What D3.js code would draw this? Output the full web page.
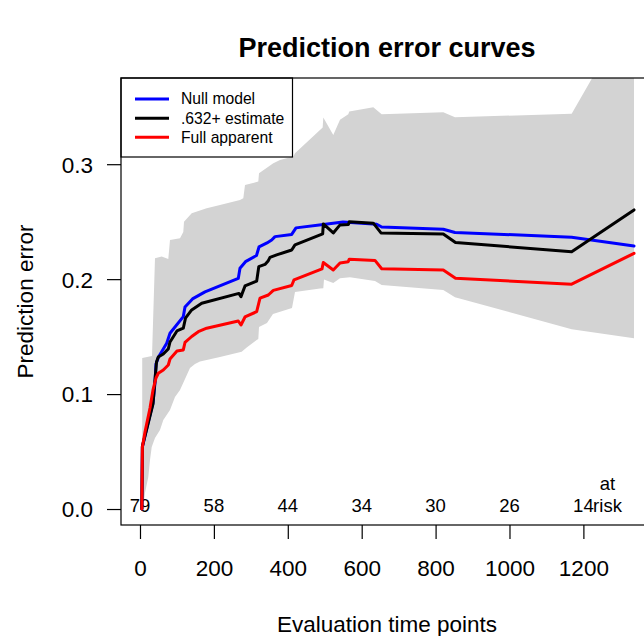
<!DOCTYPE html>
<html>
<head>
<meta charset="utf-8">
<script src="https://cdn.jsdelivr.net/npm/d3@7"></script>
<style>
  html, body { margin: 0; padding: 0; background: #fff; }
  svg { display: block; }
</style>
</head>
<body>
<script>
// Prediction error (Brier score) over follow-up time for three estimates,
// with a pointwise grey band around the .632+ curve.

const nullTimes = [5, 6.5, 21.7, 35.2, 40.6, 43.3, 50.1, 72.3, 81.2, 117.2, 121.8, 142.1, 175.9, 266.0, 270.6, 285.5, 315.3, 322.1, 343.7, 356.4, 365.4, 410.6, 422.2, 496.1, 549.4, 640.6, 654.1, 820.8, 852.5, 1168.3, 1337];
const nullErr = [0, 0.054, 0.0748, 0.0923, 0.1097, 0.1262, 0.1323, 0.1442, 0.1529, 0.1674, 0.1758, 0.1828, 0.1889, 0.2006, 0.2095, 0.2152, 0.2206, 0.2280, 0.2315, 0.2341, 0.2370, 0.2389, 0.2446, 0.2476, 0.2498, 0.2478, 0.2454, 0.2434, 0.2406, 0.2365, 0.2289];

const bootTimes = [5, 6.5, 21.7, 35.2, 40.6, 44.7, 49.5, 63.1, 76.6, 81.2, 100.0, 117.2, 123.1, 139.9, 167.0, 267.9, 273.3, 284.2, 315.8, 321.5, 338.3, 347.3, 351.8, 369.9, 410.6, 419.5, 494.4, 496.1, 523.1, 541.3, 564.3, 566.4, 631.4, 652.2, 820.8, 853.9, 1168.3, 1337];
const bootErr = [0, 0.0548, 0.0740, 0.0914, 0.1123, 0.1279, 0.1323, 0.1349, 0.1393, 0.1453, 0.1549, 0.1573, 0.1660, 0.1732, 0.1790, 0.1876, 0.1848, 0.1941, 0.1983, 0.2109, 0.2128, 0.2161, 0.2189, 0.2211, 0.2254, 0.2298, 0.2393, 0.2480, 0.2402, 0.2472, 0.2476, 0.2500, 0.2487, 0.2402, 0.2393, 0.2318, 0.2239, 0.2602];

const appTimes = [5, 6.5, 13.5, 27.1, 35.2, 43.3, 49.5, 63.1, 76.6, 81.2, 100.1, 117.2, 121.8, 139.9, 157.8, 180.5, 266.0, 273.3, 284.2, 315.8, 324.8, 347.3, 360.8, 410.6, 416.8, 492.6, 496.1, 523.1, 541.3, 563.6, 566.4, 636.0, 654.1, 820.8, 853.9, 1168.3, 1337];
const appErr = [0, 0.054, 0.0670, 0.0879, 0.1036, 0.1140, 0.1181, 0.1210, 0.1253, 0.1305, 0.1375, 0.1384, 0.1449, 0.1501, 0.1543, 0.1573, 0.1636, 0.1601, 0.1671, 0.1717, 0.1834, 0.1862, 0.1902, 0.1945, 0.1993, 0.2089, 0.2145, 0.2080, 0.2141, 0.2152, 0.2174, 0.2163, 0.2091, 0.2080, 0.2008, 0.1956, 0.2225];

const bandUpperTimes = [6, 32.5, 40.6, 58.7, 76.6, 81.2, 108.3, 117.2, 119.1, 139.9, 180.5, 216.5, 270.6, 279.6, 284.2, 320.2, 322.1, 360.8, 378.9, 414.9, 419.5, 494.4, 496.1, 523.1, 541.3, 563.7, 566.4, 631.4, 654.1, 820.8, 852.5, 1168.3, 1337];
const bandUpper = [0.1314, 0.1332, 0.2182, 0.2196, 0.2176, 0.2341, 0.2356, 0.2411, 0.2500, 0.2574, 0.2617, 0.2646, 0.2689, 0.2704, 0.2820, 0.2849, 0.2922, 0.3009, 0.3037, 0.3066, 0.3096, 0.3319, 0.3406, 0.3255, 0.3386, 0.3435, 0.3458, 0.3496, 0.3435, 0.3453, 0.3409, 0.3438, 0.4386];

const bandLowerTimes = [6, 9, 13.5, 22.5, 27.1, 31.7, 40.6, 54.1, 63.1, 81.2, 94.7, 108.3, 121.8, 135.3, 148.8, 162.4, 216.5, 275.2, 288.8, 315.8, 320.2, 322.1, 343.7, 359.9, 411.4, 419.5, 487.1, 496.1, 498.0, 523.1, 541.3, 568.3, 636.0, 654.1, 820.8, 852.5, 1168.3, 1337];
const bandLower = [0, 0.0009, 0.0139, 0.0279, 0.0426, 0.0540, 0.0618, 0.0688, 0.0775, 0.0862, 0.0975, 0.1036, 0.1131, 0.1227, 0.1262, 0.1284, 0.1323, 0.1369, 0.1406, 0.1471, 0.1480, 0.1584, 0.1619, 0.1697, 0.1749, 0.1889, 0.1919, 0.1921, 0.1997, 0.1967, 0.2008, 0.2017, 0.1984, 0.1950, 0.1906, 0.1842, 0.1564, 0.1486];

const xTicks = [0, 200, 400, 600, 800, 1000, 1200];
const yTicks = [0.0, 0.1, 0.2, 0.3];
const atRiskTimes = [0, 200, 400, 600, 800, 1000, 1200];
const atRiskCounts = [79, 58, 44, 34, 30, 26, 14];

const legendLabels = ["Null model", ".632+ estimate", "Full apparent"];
const legendColors = ["#0000ff", "#000000", "#ff0000"];

const W = 644, H = 636;
const box = { left: 121, top: 78, right: 653, bottom: 525 };
const FONT = "'Liberation Sans', Arial, Helvetica, sans-serif";

const svg = d3.select("body").append("svg")
  .attr("width", W).attr("height", H)
  .attr("viewBox", `0 0 ${W} ${H}`);

const x = d3.scaleLinear().domain([-51.4, 1388.4]).range([box.left, box.right]);
const y = d3.scaleLinear().domain([-0.0139, 0.375]).range([box.bottom, box.top]);

svg.append("defs").append("clipPath").attr("id", "plotClip")
  .append("rect")
  .attr("x", box.left).attr("y", box.top)
  .attr("width", box.right - box.left).attr("height", box.bottom - box.top);

const plot = svg.append("g").attr("clip-path", "url(#plotClip)");

// grey band: upper edge forward, lower edge back
const upperPts = bandUpperTimes.map((t, i) => [t, bandUpper[i]]);
const lowerPts = bandLowerTimes.map((t, i) => [t, bandLower[i]]).reverse();
plot.append("path")
  .attr("d", d3.line().x(d => x(d[0])).y(d => y(d[1]))(upperPts.concat(lowerPts)) + "Z")
  .attr("fill", "#d3d3d3")
  .attr("stroke", "none");

// number at risk
plot.selectAll("text.risk").data(atRiskTimes).enter().append("text")
  .attr("class", "risk")
  .attr("x", d => x(d))
  .attr("y", 512)
  .attr("text-anchor", "middle")
  .attr("font-family", FONT).attr("font-size", 18.5)
  .text((d, i) => atRiskCounts[i]);
plot.append("text").attr("x", 607.5).attr("y", 490).attr("text-anchor", "middle")
  .attr("font-family", FONT).attr("font-size", 18.5).text("at");
plot.append("text").attr("x", 607.5).attr("y", 512).attr("text-anchor", "middle")
  .attr("font-family", FONT).attr("font-size", 18.5).text("risk");

// curves
const line = d3.line().x(d => x(d[0])).y(d => y(d[1]));
const series = [
  { times: nullTimes, vals: nullErr, color: legendColors[0] },
  { times: bootTimes, vals: bootErr, color: legendColors[1] },
  { times: appTimes, vals: appErr, color: legendColors[2] }
];
series.forEach(s => {
  plot.append("path")
    .attr("d", line(s.times.map((t, i) => [t, s.vals[i]])))
    .attr("fill", "none")
    .attr("stroke", s.color)
    .attr("stroke-width", 3)
    .attr("stroke-linejoin", "round")
    .attr("stroke-linecap", "round");
});

// legend
const lg = svg.append("g");
lg.append("rect")
  .attr("x", box.left).attr("y", box.top)
  .attr("width", 292.5 - box.left).attr("height", 157 - box.top)
  .attr("fill", "#fff").attr("stroke", "#000").attr("stroke-width", 1.2);
const rowsY = [99, 118.3, 137.3];
legendLabels.forEach((lab, i) => {
  lg.append("line")
    .attr("x1", 135).attr("x2", 169)
    .attr("y1", rowsY[i]).attr("y2", rowsY[i])
    .attr("stroke", legendColors[i]).attr("stroke-width", 3);
  lg.append("text")
    .attr("x", 181).attr("y", rowsY[i])
    .attr("dy", "0.35em")
    .attr("font-family", FONT).attr("font-size", 15.7)
    .text(lab);
});

// plot frame
svg.append("rect")
  .attr("x", box.left).attr("y", box.top)
  .attr("width", box.right - box.left).attr("height", box.bottom - box.top)
  .attr("fill", "none").attr("stroke", "#000").attr("stroke-width", 1.2);

// x axis
const xAxis = d3.axisBottom(x).tickValues(xTicks).tickSize(14).tickPadding(22)
  .tickFormat(d3.format("d"));
const gx = svg.append("g").attr("transform", `translate(0,${box.bottom})`).call(xAxis);
gx.select(".domain").remove();
gx.selectAll("line").attr("stroke", "#000").attr("stroke-width", 1.2);
gx.selectAll("text").attr("font-family", FONT).attr("font-size", 22.5).attr("fill", "#000")
  .attr("dy", null).attr("y", 51);

// y axis
const yAxis = d3.axisLeft(y).tickValues(yTicks).tickSize(14).tickPadding(14)
  .tickFormat(d3.format(".1f"));
const gy = svg.append("g").attr("transform", `translate(${box.left},0)`).call(yAxis);
gy.select(".domain").remove();
gy.selectAll("line").attr("stroke", "#000").attr("stroke-width", 1.2);
gy.selectAll("text").attr("font-family", FONT).attr("font-size", 22.5).attr("fill", "#000")
  .attr("x", -28).attr("dy", "0.35em");

// titles
svg.append("text")
  .attr("x", (box.left + box.right) / 2).attr("y", 57)
  .attr("text-anchor", "middle")
  .attr("font-family", FONT).attr("font-size", 27).attr("font-weight", "bold")
  .text("Prediction error curves");
svg.append("text")
  .attr("x", (box.left + box.right) / 2).attr("y", 632)
  .attr("text-anchor", "middle")
  .attr("font-family", FONT).attr("font-size", 22.5)
  .text("Evaluation time points");
svg.append("text")
  .attr("transform", `translate(33,${(box.top + box.bottom) / 2}) rotate(-90)`)
  .attr("text-anchor", "middle")
  .attr("font-family", FONT).attr("font-size", 22.5)
  .text("Prediction error");
</script>
</body>
</html>
